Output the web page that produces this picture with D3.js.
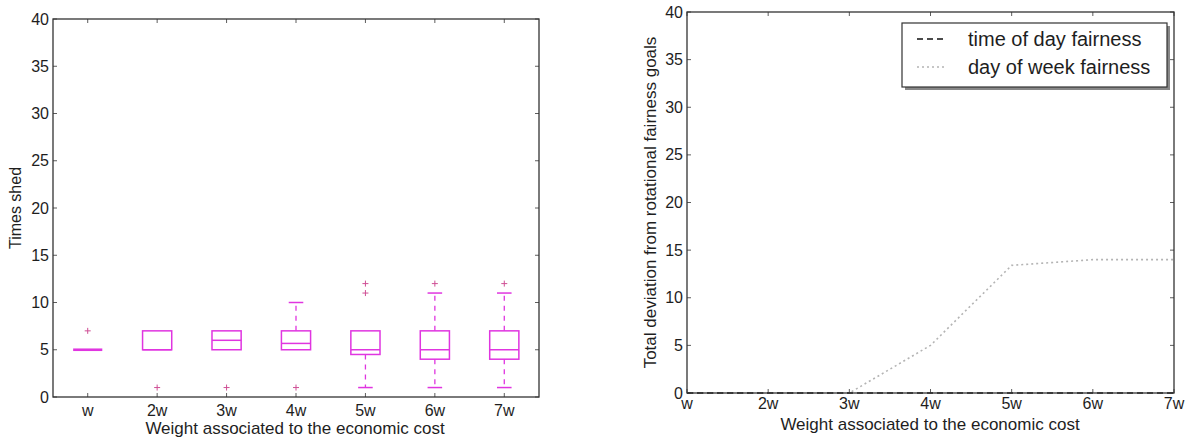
<!DOCTYPE html>
<html>
<head>
<meta charset="utf-8">
<script src="https://cdn.jsdelivr.net/npm/d3@7"></script>
<style>
  html, body { margin: 0; padding: 0; background: #fff; }
  svg { display: block; font-family: "Liberation Sans", Arial, sans-serif; }
</style>
</head>
<body>
<svg id="chart" width="1190" height="443"></svg>
<script>
// Categories (weight on the economic cost)
const categories = ["w", "2w", "3w", "4w", "5w", "6w", "7w"];

// Box plot summary for "Times shed"
const boxQ1 = [5, 5, 5, 5, 4.5, 4, 4];
const boxMedian = [5, 5, 6, 5.67, 5, 5, 5];
const boxQ3 = [5, 7, 7, 7, 7, 7, 7];
const whiskerLow = [5, 5, 5, 5, 1, 1, 1];
const whiskerHigh = [5, 7, 7, 10, 7, 11, 11];
const fliers = [[7], [1], [1], [1], [11, 12], [12], [12]];

// Fairness deviation series
const timeOfDay = [0, 0, 0, 0, 0, 0, 0];
const dayOfWeek = [0, 0, 0, 5, 13.4, 14, 14];

const yTicks = [0, 5, 10, 15, 20, 25, 30, 35, 40];

const svg = d3.select("#chart");
const boxColor = "#e035e0";
const flierColor = "#cf4f95";
const frameColor = "#333";
const textColor = "#1e1e1e";

function frame(g, x0, x1, y0, y1) {
  g.append("rect")
    .attr("x", x0).attr("y", y0)
    .attr("width", x1 - x0).attr("height", y1 - y0)
    .attr("fill", "none").attr("stroke", frameColor).attr("stroke-width", 1.3);
}

function yAxisTicks(g, y, x0, x1) {
  yTicks.forEach(t => {
    const yy = y(t);
    g.append("line").attr("x1", x0).attr("x2", x0 + 4).attr("y1", yy).attr("y2", yy)
      .attr("stroke", frameColor).attr("stroke-width", 0.8);
    g.append("line").attr("x1", x1).attr("x2", x1 - 4).attr("y1", yy).attr("y2", yy)
      .attr("stroke", frameColor).attr("stroke-width", 0.8);
    g.append("text").attr("x", x0 - 4).attr("y", yy + 5.5)
      .attr("text-anchor", "end").attr("font-size", 16).attr("fill", textColor).text(t);
  });
}

// ---------- Left panel: box plot ----------
const L = { x0: 53, x1: 539, y0: 19, y1: 397 };
const xL = d3.scaleLinear().domain([0.5, 7.5]).range([L.x0, L.x1]);
const yL = d3.scaleLinear().domain([0, 40]).range([L.y1, L.y0]);
const gL = svg.append("g");
const boxW = (xL(2) - xL(1)) * 0.42;
const capW = boxW * 0.5;

categories.forEach((c, i) => {
  const cx = xL(i + 1);
  const g = gL.append("g");
  // whiskers
  if (whiskerHigh[i] > boxQ3[i]) {
    g.append("line").attr("x1", cx).attr("x2", cx)
      .attr("y1", yL(boxQ3[i])).attr("y2", yL(whiskerHigh[i]))
      .attr("stroke", boxColor).attr("stroke-width", 1.3).attr("stroke-dasharray", "5,5");
    g.append("line").attr("x1", cx - capW / 2).attr("x2", cx + capW / 2)
      .attr("y1", yL(whiskerHigh[i])).attr("y2", yL(whiskerHigh[i]))
      .attr("stroke", boxColor).attr("stroke-width", 1.5);
  }
  if (whiskerLow[i] < boxQ1[i]) {
    g.append("line").attr("x1", cx).attr("x2", cx)
      .attr("y1", yL(boxQ1[i])).attr("y2", yL(whiskerLow[i]))
      .attr("stroke", boxColor).attr("stroke-width", 1.3).attr("stroke-dasharray", "5,5");
    g.append("line").attr("x1", cx - capW / 2).attr("x2", cx + capW / 2)
      .attr("y1", yL(whiskerLow[i])).attr("y2", yL(whiskerLow[i]))
      .attr("stroke", boxColor).attr("stroke-width", 1.5);
  }
  // box
  g.append("rect").attr("x", cx - boxW / 2).attr("width", boxW)
    .attr("y", yL(boxQ3[i])).attr("height", Math.max(0, yL(boxQ1[i]) - yL(boxQ3[i])))
    .attr("fill", "none").attr("stroke", boxColor).attr("stroke-width", 1.5);
  // median
  g.append("line").attr("x1", cx - boxW / 2).attr("x2", cx + boxW / 2)
    .attr("y1", yL(boxMedian[i])).attr("y2", yL(boxMedian[i]))
    .attr("stroke", boxColor).attr("stroke-width", boxQ1[i] === boxQ3[i] ? 2.6 : 1.5);
  // outliers
  fliers[i].forEach(v => {
    const fy = yL(v);
    g.append("path").attr("d", `M${cx - 3},${fy}H${cx + 3}M${cx},${fy - 3}V${fy + 3}`)
      .attr("stroke", flierColor).attr("stroke-width", 1).attr("fill", "none");
  });
  // category ticks and labels
  gL.append("line").attr("x1", cx).attr("x2", cx).attr("y1", L.y1).attr("y2", L.y1 - 4)
    .attr("stroke", frameColor).attr("stroke-width", 0.8);
  gL.append("line").attr("x1", cx).attr("x2", cx).attr("y1", L.y0).attr("y2", L.y0 + 4)
    .attr("stroke", frameColor).attr("stroke-width", 0.8);
  gL.append("text").attr("x", cx).attr("y", 416).attr("text-anchor", "middle")
    .attr("font-size", 16).attr("fill", textColor).text(c);
});
frame(gL, L.x0, L.x1, L.y0, L.y1);
yAxisTicks(gL, yL, L.x0, L.x1);
gL.append("text").attr("x", 295).attr("y", 434).attr("text-anchor", "middle")
  .attr("font-size", 17).attr("fill", textColor).text("Weight associated to the economic cost");
gL.append("text").attr("transform", `translate(21,${(L.y0 + L.y1) / 2}) rotate(-90)`)
  .attr("text-anchor", "middle").attr("font-size", 16).attr("fill", textColor).text("Times shed");

// ---------- Right panel: line chart ----------
const R = { x0: 687, x1: 1174, y0: 12, y1: 393 };
const xR = d3.scaleLinear().domain([1, 7]).range([R.x0, R.x1]);
const yR = d3.scaleLinear().domain([0, 40]).range([R.y1, R.y0]);
const gR = svg.append("g");

const line = d3.line().x((d, i) => xR(i + 1)).y(d => yR(d));
gR.append("path").datum(dayOfWeek).attr("d", line)
  .attr("fill", "none").attr("stroke", "#b4b4b4").attr("stroke-width", 1.6)
  .attr("stroke-dasharray", "2,3");
gR.append("path").datum(timeOfDay).attr("d", line)
  .attr("fill", "none").attr("stroke", "#111").attr("stroke-width", 1.4)
  .attr("stroke-dasharray", "6,4");

frame(gR, R.x0, R.x1, R.y0, R.y1);
yAxisTicks(gR, yR, R.x0, R.x1);
categories.forEach((c, i) => {
  const xx = xR(i + 1);
  gR.append("line").attr("x1", xx).attr("x2", xx).attr("y1", R.y1).attr("y2", R.y1 - 4)
    .attr("stroke", frameColor).attr("stroke-width", 0.8);
  gR.append("line").attr("x1", xx).attr("x2", xx).attr("y1", R.y0).attr("y2", R.y0 + 4)
    .attr("stroke", frameColor).attr("stroke-width", 0.8);
  gR.append("text").attr("x", xx).attr("y", 409).attr("text-anchor", "middle")
    .attr("font-size", 16).attr("fill", textColor).text(c);
});
gR.append("text").attr("x", 930).attr("y", 430).attr("text-anchor", "middle")
  .attr("font-size", 17).attr("fill", textColor).text("Weight associated to the economic cost");
gR.append("text").attr("transform", `translate(656,${(R.y0 + R.y1) / 2}) rotate(-90)`)
  .attr("text-anchor", "middle").attr("font-size", 17).attr("fill", textColor)
  .text("Total deviation from rotational fairness goals");

// Legend with drop shadow
const legend = gR.append("g").attr("transform", "translate(902,23)");
legend.append("rect").attr("x", 3).attr("y", 3).attr("width", 265).attr("height", 64)
  .attr("fill", "#888");
legend.append("rect").attr("x", 0).attr("y", 0).attr("width", 265).attr("height", 64)
  .attr("fill", "#fff").attr("stroke", frameColor).attr("stroke-width", 1.2);
const legendItems = [
  { label: "time of day fairness", stroke: "#111", dash: "6,4" },
  { label: "day of week fairness", stroke: "#b4b4b4", dash: "2,3" }
];
legendItems.forEach((d, i) => {
  const ly = 16 + i * 28;
  legend.append("line").attr("x1", 15).attr("x2", 45).attr("y1", ly).attr("y2", ly)
    .attr("stroke", d.stroke).attr("stroke-width", 1.4).attr("stroke-dasharray", d.dash);
  legend.append("text").attr("x", 66).attr("y", ly + 7).attr("font-size", 20)
    .attr("fill", textColor).text(d.label);
});
</script>
</body>
</html>
